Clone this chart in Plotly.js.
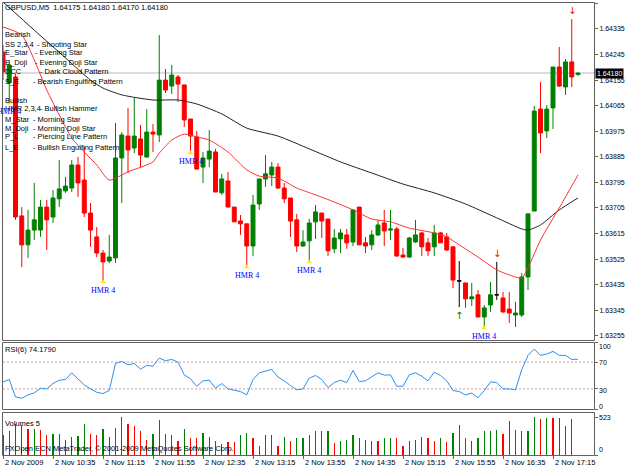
<!DOCTYPE html>
<html><head><meta charset="utf-8">
<script src="https://cdn.plot.ly/plotly-3.0.1.min.js"></script>
<style>html,body{margin:0;padding:0;background:#fff;overflow:hidden}#chart{width:625px;height:469px}</style>
</head><body><div id="chart"></div>
<script>
// ---------- DATA ----------
const symbolTitle = 'GBPUSD,M5\u00a0\u00a01.64175 1.64180 1.64170 1.64180';
const openP = [1.64254,1.64145,1.64166,1.63677,1.63575,1.63627,1.63627,1.63708,1.63673,1.63737,
1.63765,1.63775,1.63856,1.63803,1.63687,1.63603,1.63546,1.63518,1.63529,1.63881,
1.63958,1.63916,1.63948,1.63884,1.63972,1.63962,1.64155,1.64134,1.64166,1.64138,
1.64018,1.63955,1.63849,1.63877,1.63902,1.63758,1.63800,1.63708,1.63659,1.63649,
1.63571,1.63719,1.63807,1.63821,1.63849,1.63775,1.63740,1.63663,1.63571,1.63589,
1.63656,1.63687,1.63666,1.63561,1.63596,1.63610,1.63585,1.63708,1.63582,1.63575,
1.63610,1.63652,1.63627,1.63631,1.63539,1.63532,1.63585,1.63617,1.63582,1.63568,
1.63617,1.63603,1.63568,1.63448,1.63441,1.63385,1.63399,1.63321,1.63363,1.63399,
1.63388,1.63349,1.63328,1.63328,1.63462,1.63694,1.64053,1.63976,1.64057,1.64201,
1.64131,1.64219,1.64175];
const highP = [1.64279,1.64226,1.64177,1.63708,1.63698,1.63793,1.63733,1.63733,1.63768,1.63874,
1.63814,1.63874,1.63884,1.63920,1.63722,1.63638,1.63557,1.63610,1.64004,1.63972,
1.64057,1.64092,1.63997,1.64053,1.64001,1.64314,1.64194,1.64208,1.64173,1.64138,
1.64018,1.63976,1.63902,1.63979,1.63913,1.63825,1.63832,1.63708,1.63680,1.63649,
1.63751,1.63807,1.63891,1.63867,1.63863,1.63793,1.63740,1.63684,1.63627,1.63666,
1.63715,1.63687,1.63666,1.63631,1.63631,1.63631,1.63701,1.63708,1.63603,1.63627,
1.63663,1.63698,1.63698,1.63638,1.63564,1.63603,1.63663,1.63620,1.63599,1.63645,
1.63620,1.63617,1.63568,1.63518,1.63441,1.63441,1.63416,1.63363,1.63444,1.63515,
1.63409,1.63409,1.63374,1.63476,1.63687,1.64064,1.64148,1.64067,1.64201,1.64272,
1.64229,1.64370,1.64180];
const lowP = [1.64155,1.64074,1.63663,1.63497,1.63529,1.63592,1.63603,1.63557,1.63652,1.63708,
1.63758,1.63761,1.63744,1.63673,1.63568,1.63532,1.63444,1.63511,1.63511,1.63722,
1.63828,1.63898,1.63849,1.63884,1.63902,1.63937,1.64110,1.64106,1.64078,1.63990,
1.63898,1.63839,1.63793,1.63849,1.63761,1.63751,1.63708,1.63656,1.63610,1.63497,
1.63536,1.63698,1.63779,1.63782,1.63772,1.63722,1.63603,1.63550,1.63568,1.63515,
1.63596,1.63599,1.63536,1.63546,1.63546,1.63561,1.63571,1.63575,1.63546,1.63557,
1.63606,1.63571,1.63592,1.63532,1.63529,1.63529,1.63582,1.63536,1.63536,1.63536,
1.63582,1.63554,1.63423,1.63356,1.63353,1.63360,1.63321,1.63282,1.63339,1.63381,
1.63335,1.63300,1.63286,1.63321,1.63416,1.63694,1.63898,1.63951,1.63983,1.64131,
1.64103,1.64131,1.64170];
const closeP = [1.64184,1.64208,1.63673,1.63575,1.63627,1.63663,1.63708,1.63663,1.63740,1.63772,
1.63782,1.63856,1.63793,1.63687,1.63627,1.63546,1.63515,1.63532,1.63881,1.63962,
1.63909,1.63958,1.63891,1.63972,1.63965,1.64155,1.64120,1.64173,1.64141,1.64015,
1.63958,1.63842,1.63881,1.63905,1.63761,1.63807,1.63708,1.63656,1.63649,1.63571,
1.63715,1.63807,1.63825,1.63849,1.63775,1.63737,1.63659,1.63571,1.63585,1.63652,
1.63691,1.63659,1.63554,1.63599,1.63617,1.63582,1.63698,1.63575,1.63571,1.63610,
1.63645,1.63624,1.63631,1.63536,1.63532,1.63599,1.63610,1.63568,1.63554,1.63617,
1.63582,1.63557,1.63451,1.63448,1.63385,1.63392,1.63321,1.63353,1.63399,1.63399,
1.63339,1.63335,1.63335,1.63462,1.63684,1.64046,1.63969,1.64053,1.64201,1.64134,
1.64219,1.64166,1.64180];

// moving averages, read at a few bars
const maSlowIdx = [0,5,10,14,16,19,24,28,31,35,39,44,49,54,59,64,69,74,79,83,84,86,89,92];
const maSlowVal = [1.64430,1.64331,1.64233,1.64155,1.64127,1.64103,1.64085,1.64085,1.64071,1.64036,1.63986,1.63958,1.63913,1.63867,1.63828,1.63789,1.63758,1.63719,1.63670,1.63631,1.63627,1.63645,1.63698,1.63740];
const maFastIdx = [0,3,5,7,9,11,13,15,17,20,24,25,27,29,31,33,36,39,41,44,47,50,53,56,59,62,65,69,71,73,76,79,81,83,84,86,89,92];
const maFastVal = [1.64342,1.64314,1.64226,1.64120,1.64032,1.63951,1.63902,1.63856,1.63803,1.63832,1.63867,1.63898,1.63944,1.63965,1.63955,1.63944,1.63902,1.63839,1.63817,1.63810,1.63775,1.63751,1.63726,1.63698,1.63666,1.63656,1.63634,1.63617,1.63603,1.63575,1.63532,1.63487,1.63469,1.63458,1.63494,1.63592,1.63705,1.63821];

const rsiVal = [40.5,44,18,16,21,24,31,30,38,43,44,54,45,36,30,25,23,27.6,68,71,
66,68,59.5,65,64,76,72,74,70,51,45,34,42,43,31,38,30,27.6,26,21,
44,54,56,59,47.6,42,35,28.6,30,46,50,44,32,39.5,43,39.5,57.6,41,42,48,
54,50.5,51,34,34,51,54,49,42,55,50,42,27.6,26,21,23.8,16.7,27.6,40.5,39.5,
30,30,28.6,59,80,89.5,80,82,86,80,80,74,74.179];
const volVal = [273,328,423,419,355,360,341,273,287,296,205,241,264,432,285,270,364,250,373,523,
432,400,328,205,296,478,287,282,191,355,228,237,309,250,191,146,182,182,282,309,
237,127,282,282,123,241,191,228,228,282,328,328,328,159,191,205,282,237,205,196,
196,228,237,228,123,191,209,241,228,196,237,173,300,419,228,196,237,328,328,341,
296,464,341,328,328,523,500,510,510,514,400,491,5];
// 1 = volume shown as rising (green), 0 = falling (red)
const volRising = [0,1,1,0,0,1,0,0,1,1,0,1,1,1,0,0,1,0,1,1,
0,0,0,0,1,1,0,0,0,1,0,0,1,0,0,1,0,0,1,1,
0,0,0,1,0,1,0,1,1,1,1,0,1,0,1,1,1,0,0,0,
0,1,1,0,0,1,1,1,0,0,1,0,1,1,0,0,1,1,1,1,
0,1,0,0,1,1,0,1,0,1,0,1,0];

const priceTicks = [1.63255,1.63345,1.63435,1.63525,1.63615,1.63705,1.63795,1.63885,1.63975,1.64065,1.64155,1.64245,1.64335,1.64425];
const timeIdx = [0,8,16,24,32,40,48,56,64,72,80,88];
const timeLabels = ['2 Nov 2009','2 Nov 10:35','2 Nov 11:15','2 Nov 11:55','2 Nov 12:35','2 Nov 13:15','2 Nov 13:55','2 Nov 14:35','2 Nov 15:15','2 Nov 15:55','2 Nov 16:35','2 Nov 17:15'];
const bidPrice = 1.64180;
const rsiLabel = 'RSI(6) 74.1790';
const volLabel = 'Volumes 5';
const copyright = 'FXOpen ECN MetaTrader, \u00a9 2001-2009 MetaQuotes Software Corp.';
const hmrIdx = [1,16,30,39,49,77];
const hmrText = 'HMR 4';
const upArrowIdx = [73];
const downArrowIdx = [79,91];
const bearCodes = ['SS 2,3,4','E_Star','E_Doji','DCC','S_E'];
const bearNames = ['Shooting Star','Evening Star','Evening Doji Star','Dark Cloud Pattern','Bearish Engulfing Pattern'];
const bullCodes = ['HMR 2,3,4','M_Star','M_Doji','P_L','L_E'];
const bullNames = ['Bullish Hammer','Morning Star','Morning Doji Star','Piercing Line Pattern','Bullish Engulfing Pattern'];

// ---------- STYLE / LAYOUT ----------
const W = 625, H = 469;
const fx = px => px / W;
const fy = py => 1 - py / H;
const FONT = 'Liberation Sans, Arial, sans-serif';
const FS = 7.5;
const FSR = 7;
const GREEN = '#008000', RED = '#ff0000';
const idx = openP.map((_, i) => i);

const moving = idx.filter(i => openP[i] !== closeP[i]);
const flat = idx.filter(i => openP[i] === closeP[i]);
const pick = (arr, sel) => sel.map(i => arr[i]);

const traces = [];
traces.push({type:'bar', x: idx, y: volVal, xaxis:'x', yaxis:'y3', width:0.2,
  marker:{color: volRising.map(v => v ? GREEN : RED), line:{width:0}}, hoverinfo:'skip'});
traces.push({type:'scatter', mode:'lines', x: idx, y: rsiVal, xaxis:'x', yaxis:'y2',
  line:{color:'#2b8ff0', width:1}, hoverinfo:'skip'});
traces.push({type:'scatter', mode:'lines', x: maSlowIdx, y: maSlowVal, xaxis:'x', yaxis:'y',
  line:{color:'#222', width:1, shape:'spline', smoothing:0.6}, hoverinfo:'skip'});
traces.push({type:'scatter', mode:'lines', x: maFastIdx, y: maFastVal, xaxis:'x', yaxis:'y',
  line:{color:'#ff3030', width:1, shape:'spline', smoothing:0.6}, hoverinfo:'skip'});
traces.push({type:'candlestick', x: pick(idx,moving), open: pick(openP,moving), high: pick(highP,moving),
  low: pick(lowP,moving), close: pick(closeP,moving), xaxis:'x', yaxis:'y',
  increasing:{line:{color:GREEN, width:1}, fillcolor:GREEN},
  decreasing:{line:{color:RED, width:1}, fillcolor:RED}, hoverinfo:'skip'});
traces.push({type:'candlestick', x: pick(idx,flat), open: pick(openP,flat), high: pick(highP,flat),
  low: pick(lowP,flat), close: pick(closeP,flat), xaxis:'x', yaxis:'y',
  increasing:{line:{color:'#000', width:1}, fillcolor:'#000'},
  decreasing:{line:{color:'#000', width:1}, fillcolor:'#000'}, hoverinfo:'skip'});
traces.push({type:'scatter', mode:'markers', x: hmrIdx, y: hmrIdx.map(i => lowP[i]), xaxis:'x', yaxis:'y',
  marker:{symbol:'triangle-up', size:5, color:'#ffee00', line:{width:0}}, hoverinfo:'skip'});

const ann = [];
const txt = (text, px, py, extra) => ann.push(Object.assign({xref:'paper', yref:'paper', x: fx(px), y: fy(py),
  text, showarrow:false, xanchor:'left', yanchor:'middle', borderpad:0,
  font:{family:FONT, size:FS, color:'#000'}}, extra || {}));

txt(symbolTitle, 4, 8);
txt('Bearish', 4, 34);
const bearY = [44,53,62,72,81], bearDashX = [36,34,34,39,32];
bearCodes.forEach((c,k) => { txt(c, 4, bearY[k]); txt('- ' + bearNames[k], bearDashX[k], bearY[k]); });
txt('Bullish', 4, 100);
const bullY = [109,119,128,137,147], bullDashX = [39,32,32,32,32];
bullCodes.forEach((c,k) => { txt(c, 4, bullY[k]); txt('- ' + bullNames[k], bullDashX[k], bullY[k]); });

txt(rsiLabel, 4, 349);
txt(volLabel, 4, 423);
txt(copyright, 4, 448);

// right axis labels of sub panels
[['100',346],['70',362],['30',390],['0',406],['523',417],['0',449]].forEach(([t,py]) =>
  txt(t, 598, py, {font:{family:FONT, size:FSR, color:'#000'}}));

// current price box
ann.push({xref:'paper', yref:'y', x: fx(595), y: bidPrice, text: bidPrice.toFixed(5), showarrow:false,
  xanchor:'left', yanchor:'middle', bgcolor:'#000', borderpad:1, font:{family:FONT, size:FSR, color:'#fff'}});

// time labels
timeIdx.forEach((i,k) => ann.push({xref:'x', yref:'paper', x: i, y: fy(462), text: timeLabels[k], showarrow:false,
  xanchor:'left', yanchor:'middle', xshift:1, borderpad:0, font:{family:FONT, size:FS, color:'#000'}}));

// pattern labels
hmrIdx.forEach(i => ann.push({xref:'x', yref:'y', x: i, y: lowP[i], text: hmrText, showarrow:false,
  xanchor:'center', yanchor:'top', yshift:-3, borderpad:0,
  font:{family:'Liberation Serif, Times New Roman, serif', size:8, color:'#0000ff'}}));
upArrowIdx.forEach(i => ann.push({xref:'x', yref:'y', x: i, y: lowP[i], text: '\u2191', showarrow:false,
  xanchor:'center', yanchor:'top', yshift:-2, borderpad:0,
  font:{family:'DejaVu Sans', size:10, color:GREEN}}));
downArrowIdx.forEach(i => ann.push({xref:'x', yref:'y', x: i, y: highP[i], text: '\u2193', showarrow:false,
  xanchor:'center', yanchor:'bottom', yshift:2, borderpad:0,
  font:{family:'DejaVu Sans', size:10, color:RED}}));

const border = (y0, y1) => ({type:'rect', xref:'paper', yref:'paper', x0: fx(2.5), x1: fx(594.5),
  y0: fy(y1), y1: fy(y0), line:{color:'#606060', width:1}, fillcolor:'rgba(0,0,0,0)', layer:'above'});
const shapes = [
  border(2.5, 340.5), border(342.5, 409.5), border(412.5, 455.5),
  {type:'line', xref:'paper', yref:'y', x0: fx(3), x1: fx(594), y0: bidPrice, y1: bidPrice,
    line:{color:'#b4bac8', width:1}, layer:'below'},
  {type:'line', xref:'paper', yref:'y2', x0: fx(3), x1: fx(594), y0: 70, y1: 70,
    line:{color:'#c8a0a0', width:1, dash:'2px,2px'}, layer:'below'},
  {type:'line', xref:'paper', yref:'y2', x0: fx(3), x1: fx(594), y0: 30, y1: 30,
    line:{color:'#c8a0a0', width:1, dash:'2px,2px'}, layer:'below'}
];

const axBase = {showgrid:false, zeroline:false, showline:false, fixedrange:true, ticks:'outside', ticklen:3,
  tickcolor:'#606060', tickfont:{family:FONT, size:FSR, color:'#000'}};
const layout = {
  width: W, height: H, margin:{l:0, r:0, t:0, b:0}, paper_bgcolor:'#fff', plot_bgcolor:'#fff',
  showlegend:false, boxgap:0.3, boxgroupgap:0.1, bargap:0, hovermode:false,
  xaxis: Object.assign({}, axBase, {domain:[fx(2), fx(594)], range:[-0.16, 94.56], anchor:'y3',
    tickvals: timeIdx, showticklabels:false, rangeslider:{visible:false}}),
  yaxis: Object.assign({}, axBase, {domain:[fy(340), fy(2)], range:[1.63240, 1.64430], side:'right', anchor:'x',
    tickvals: priceTicks, ticktext: priceTicks.map(v => v.toFixed(5))}),
  yaxis2: Object.assign({}, axBase, {domain:[fy(409), fy(342)], range:[0, 100], side:'right', anchor:'x',
    tickvals:[0,30,70,100], showticklabels:false}),
  yaxis3: Object.assign({}, axBase, {domain:[fy(455), fy(412)], range:[0, 592], side:'right', anchor:'x',
    tickvals:[0,523], showticklabels:false}),
  annotations: ann, shapes: shapes
};
Plotly.newPlot('chart', traces, layout, {staticPlot:true, displayModeBar:false});
</script>
</body></html>
